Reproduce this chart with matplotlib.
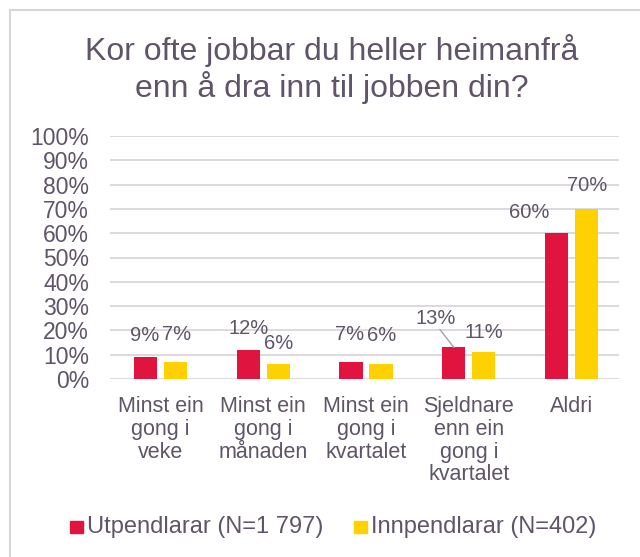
import matplotlib
matplotlib.use("Agg")
import matplotlib.pyplot as plt
import numpy as np
from matplotlib.lines import Line2D
from matplotlib.patches import Rectangle

categories = ["Minst ein\ngong i\nveke", "Minst ein\ngong i\nmånaden", "Minst ein\ngong i\nkvartalet",
              "Sjeldnare\nenn ein\ngong i\nkvartalet", "Aldri"]
utpendlarar = [9, 12, 7, 13, 60]
innpendlarar = [7, 6, 6, 11, 70]
series_names = ["Utpendlarar (N=1 797)", "Innpendlarar (N=402)"]
yticks = list(range(0, 101, 10))

RED = "#E0143E"
YEL = "#FFD100"
TXT = "#5F5468"
GRID = "#D9D5DC"

plt.rcParams['font.family'] = ['Liberation Sans', 'DejaVu Sans']

fig = plt.figure(figsize=(6.4, 5.57), dpi=100)
W, H = 640, 557
ax = fig.add_axes([110 / W, 1 - 379 / H, (619 - 110) / W, (379 - 136) / H])

x = np.arange(len(categories))
bw = 0.225
off = 0.146
ax.bar(x - off, utpendlarar, bw, color=RED)
ax.bar(x + off, innpendlarar, bw, color=YEL)

ax.set_xlim(-0.49, 4.46)
ax.set_ylim(0, 100)
ax.set_yticks(yticks)
ax.set_yticklabels([f"{v}%" for v in yticks], fontsize=16.5, color=TXT)
ax.set_xticks(x)
ax.set_xticklabels(categories, fontsize=15.5, color=TXT, linespacing=1.12, va='top')
ax.tick_params(axis='y', length=0, pad=15)
ax.tick_params(axis='x', length=0, pad=12)
ax.grid(axis='y', color=GRID, linewidth=1.3)
ax.set_axisbelow(True)
for s in ax.spines.values():
    s.set_visible(False)

fs = 14.5
# data label offsets in pixels (dx, dy from bar top)
offs1 = [(-1, 22), (0, 21), (-1, 27), (-18, 29), (-27, 21)]
offs2 = [(1, 27), (0, 21), (1, 29), (0, 20), (0, 23)]
for i, v in enumerate(utpendlarar):
    dx, dy = offs1[i]
    ax.annotate(f"{v}%", (x[i] - off, v), xytext=(dx, dy), textcoords='offset pixels',
                ha='center', va='center', fontsize=fs, color=TXT)
for i, v in enumerate(innpendlarar):
    dx, dy = offs2[i]
    ax.annotate(f"{v}%", (x[i] + off, v), xytext=(dx, dy), textcoords='offset pixels',
                ha='center', va='center', fontsize=fs, color=TXT)
# leader line for 13%
ax.annotate("", (x[3] - off, utpendlarar[3]), xytext=(-14, 18), textcoords='offset pixels',
            arrowprops=dict(arrowstyle='-', color="#A6A0AA", lw=1, shrinkA=0, shrinkB=0))

fig.text(332 / W, 1 - 69 / H, "Kor ofte jobbar du heller heimanfrå\nenn å dra inn til jobben din?",
         ha='center', va='center', fontsize=23, color=TXT, linespacing=1.18)

# legend
ly = 1 - 527 / H
fig.patches.append(Rectangle((70 / W, ly - 6 / H), 13 / W, 12 / H, color=RED, transform=fig.transFigure))
fig.text(87 / W, ly, series_names[0], fontsize=17, color=TXT, va='center')
fig.patches.append(Rectangle((354 / W, ly - 6 / H), 13 / W, 12 / H, color=YEL, transform=fig.transFigure))
fig.text(371 / W, ly, series_names[1], fontsize=17, color=TXT, va='center')

# outer frame (top and left edges visible)
fig.lines.append(Line2D([9.5 / W, 1.0], [1 - 9.5 / H, 1 - 9.5 / H], color=GRID, lw=1.5,
                        transform=fig.transFigure))
fig.lines.append(Line2D([9.5 / W, 9.5 / W], [0, 1 - 9.5 / H], color=GRID, lw=1.5,
                        transform=fig.transFigure))

fig.savefig("out.png", dpi=100)
